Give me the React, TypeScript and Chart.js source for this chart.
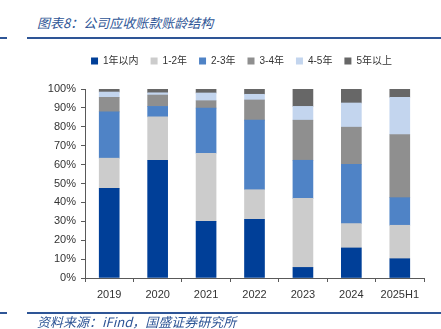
import React, { useEffect, useRef } from "react";
import { Chart, registerables } from "chart.js";

Chart.register(...registerables);

const categories = ["2019", "2020", "2021", "2022", "2023", "2024", "2025H1"];
const seriesNames = ["1年以内", "1-2年", "2-3年", "3-4年", "4-5年", "5年以上"];
const within1 = [47.4, 62.3, 30.0, 31.0, 5.6, 15.9, 10.2];
const y1to2 = [16.0, 23.0, 36.0, 15.7, 36.5, 12.9, 17.7];
const y2to3 = [24.5, 5.5, 23.9, 36.8, 20.2, 31.4, 14.6];
const y3to4 = [7.7, 6.0, 3.9, 10.7, 21.2, 19.6, 33.4];
const y4to5 = [2.8, 1.2, 4.1, 3.0, 7.3, 12.8, 19.7];
const over5 = [1.6, 2.0, 2.1, 2.8, 9.2, 7.4, 4.4];
const yTicks = [0, 10, 20, 30, 40, 50, 60, 70, 80, 90, 100];

const colors = ["#003f98", "#cccccc", "#4f83c6", "#8f8f8f", "#c3d5ee", "#676767"];
const seriesValues = [within1, y1to2, y2to3, y3to4, y4to5, over5];

const FONT = '"Liberation Sans", "Noto Sans CJK SC", Arial, sans-serif';

export default function App() {
  const ref = useRef<HTMLCanvasElement | null>(null);

  useEffect(() => {
    if (!ref.current) return;
    const spacer = {
      id: "legendSpacer",
      beforeUpdate(chart: any) {
        const lg = chart.legend;
        if (lg && !lg.__patched) {
          const fit = lg.fit;
          lg.fit = function () {
            fit.call(this);
            this.height += 13;
          };
          lg.__patched = true;
        }
      },
      afterLayout(chart: any) {
        const lg = chart.legend;
        if (lg) {
          lg.left += 12;
          lg.right += 12;
        }
      },
    };
    const chart = new Chart(ref.current, {
      type: "bar",
      data: {
        labels: categories,
        datasets: seriesNames.map((name, i) => ({
          label: name,
          data: seriesValues[i],
          backgroundColor: colors[i],
          borderWidth: 0,
          barThickness: 20,
        })),
      },
      options: {
        animation: false,
        responsive: false,
        layout: { padding: { left: 35, right: 17, top: 44, bottom: 0 } },
        plugins: {
          legend: {
            position: "top",
            labels: {
              boxWidth: 7,
              boxHeight: 7,
              padding: 12,
              color: "#333333",
              font: { size: 10, family: FONT },
            },
          },
          tooltip: { enabled: false },
        },
        scales: {
          x: {
            stacked: true,
            afterFit: (s: any) => {
              s.height = 51;
            },
            grid: {
              drawOnChartArea: false,
              drawTicks: true,
              tickLength: 4,
              color: "#595959",
            },
            border: { color: "#595959" },
            ticks: { color: "#333333", padding: 6, font: { size: 11, family: FONT } },
          },
          y: {
            stacked: true,
            min: 0,
            max: 100,
            afterFit: (s: any) => {
              s.width = 50;
            },
            afterBuildTicks: (s: any) => {
              s.ticks = yTicks.map((v) => ({ value: v }));
            },
            grid: {
              drawOnChartArea: false,
              drawTicks: true,
              tickLength: 4,
              color: "#595959",
            },
            border: { color: "#595959" },
            ticks: {
              color: "#333333",
              padding: 5,
              font: { size: 11, family: FONT },
              callback: (v: any) => v + "%",
            },
          },
        },
      },
      plugins: [spacer],
    });
    return () => chart.destroy();
  }, []);

  const lineColor = "#2e5596";
  const textStyle: React.CSSProperties = {
    position: "absolute",
    left: 37,
    fontSize: 13,
    lineHeight: "15px",
    fontStyle: "italic",
    color: "#2e5596",
    fontFamily: '"Noto Sans CJK SC", "Liberation Sans", sans-serif',
    whiteSpace: "nowrap",
  };
  return (
    <div style={{ position: "absolute", left: 0, top: 0, width: 441, height: 329, background: "#fff", overflow: "hidden" }}>
      <div style={{ ...textStyle, top: 15 }}>图表8：公司应收账款账龄结构</div>
      <div style={{ position: "absolute", left: 0, top: 37, width: 7, height: 2, background: lineColor }} />
      <div style={{ position: "absolute", left: 27, top: 37, width: 414, height: 2, background: lineColor }} />
      <canvas ref={ref} width={441} height={329} style={{ position: "absolute", left: 0, top: 0 }} />
      <div style={{ position: "absolute", left: 0, top: 312, width: 7, height: 2, background: lineColor }} />
      <div style={{ position: "absolute", left: 27, top: 312, width: 414, height: 2, background: lineColor }} />
      <div style={{ ...textStyle, top: 314 }}>资料来源：iFind，国盛证券研究所</div>
    </div>
  );
}
